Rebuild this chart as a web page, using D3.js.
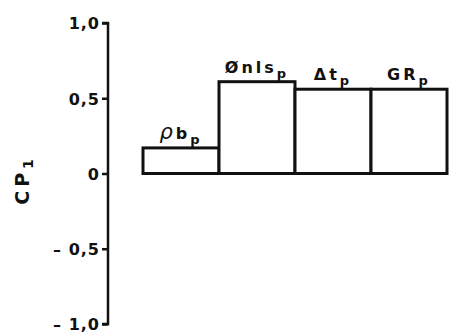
<!DOCTYPE html>
<html>
<head>
<meta charset="utf-8">
<script src="https://cdn.jsdelivr.net/npm/d3@7"></script>
<style>
  html, body { margin: 0; padding: 0; background: #fff; }
  svg { display: block; }
  text { font-family: "DejaVu Sans", sans-serif; font-weight: bold; fill: #111; }
</style>
</head>
<body>
<svg id="chart" width="451" height="335"></svg>
<script>
// Loadings of each log variable on the first principal component
const categories = ["rhob", "phinls", "dt", "gr"];
const labelGreek = ["\u03C1", "", "", ""];
const labelMain = ["b", "\u00D8nls", "\u0394t", "GR"];
const labelSub = ["p", "p", "p", "p"];
const values = [0.17, 0.61, 0.56, 0.56];
const tickValues = [-1.0, -0.5, 0, 0.5, 1.0];
const tickLabels = ["\u2013 1,0", "\u2013 0,5", "0", "0,5", "1,0"];

const svg = d3.select("#chart");

const y = d3.scaleLinear().domain([-1, 1]).range([324, 23]);
const x = d3.scaleBand().domain(categories).range([143, 447]).padding(0);

// Y axis
const axisX = 108;
const yAxis = d3.axisLeft(y)
  .tickValues(tickValues)
  .tickSize(6)
  .tickFormat((d, i) => tickLabels[i]);

const gAxis = svg.append("g")
  .attr("transform", `translate(${axisX},0)`)
  .call(yAxis);
gAxis.select(".domain")
  .attr("d", `M-6,${y(1)}H0V${y(-1)}H-6`)
  .attr("stroke", "#111").attr("stroke-width", 2.5).attr("fill", "none");
gAxis.selectAll(".tick line").attr("stroke", "#111").attr("stroke-width", 2.5);
gAxis.selectAll(".tick text")
  .attr("x", -8)
  .attr("dy", "0.36em")
  .style("font-size", "16px")
  .style("letter-spacing", "1px")
  .style("font-family", "'DejaVu Sans', sans-serif")
  .style("font-weight", "bold")
  .attr("fill", "#111");

// Y axis title
const title = svg.append("text")
  .attr("transform", "translate(29,180) rotate(-90)")
  .attr("text-anchor", "middle")
  .style("font-size", "19px")
  .style("letter-spacing", "4px");
title.append("tspan").text("CP");
title.append("tspan").attr("dy", 4).style("font-size", "14px").text("1");

// Bars
svg.append("g").selectAll("rect")
  .data(categories)
  .join("rect")
  .attr("x", d => x(d))
  .attr("y", (d, i) => y(values[i]))
  .attr("width", x.bandwidth())
  .attr("height", (d, i) => y(0) - y(values[i]))
  .attr("fill", "#fff")
  .attr("stroke", "#111")
  .attr("stroke-width", 3);

// Bar labels with subscripts
const labels = svg.append("g").selectAll("text")
  .data(categories)
  .join("text")
  .attr("x", d => x(d) + x.bandwidth() / 2)
  .attr("y", (d, i) => y(values[i]) - 9)
  .attr("text-anchor", "middle")
  .style("font-size", "16px")
  .style("letter-spacing", "3px");
labels.append("tspan")
  .style("font-size", "21px")
  .style("font-style", "italic")
  .style("font-weight", "normal")
  .text((d, i) => labelGreek[i]);
labels.append("tspan")
  .text((d, i) => labelMain[i]);
labels.append("tspan")
  .attr("dy", 5)
  .style("font-size", "13px")
  .text((d, i) => labelSub[i]);
</script>
</body>
</html>
